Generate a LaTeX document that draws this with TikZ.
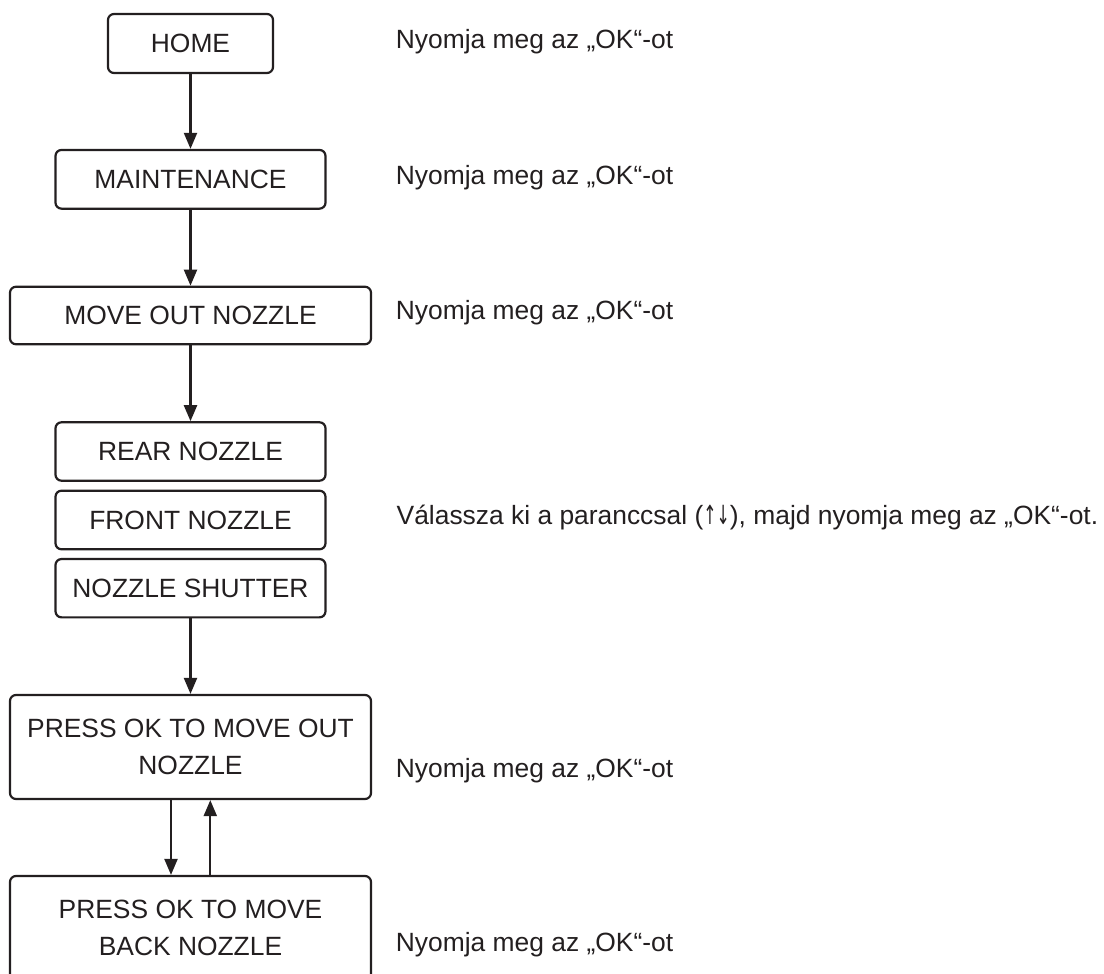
\documentclass[tikz,border=0pt]{standalone}
\usepackage{fontspec}
\usepackage{graphicx}
\setmainfont{Liberation Sans}
\newfontfamily\arrowfont{DejaVu Sans}
\usetikzlibrary{arrows.meta}
\definecolor{ink}{HTML}{231F20}
\newcommand{\uparr}{\scalebox{0.6}[1]{\arrowfont ↑}}
\newcommand{\dnarr}{\scalebox{0.6}[1]{\arrowfont ↓}}
\begin{document}
\begin{tikzpicture}[x=1pt,y=-1pt,
  box/.style={draw=ink, text=ink, line width=2.2pt, rounded corners=6pt, inner sep=0pt, align=center,
    font=\fontsize{26.4}{37.5}\selectfont},
  note/.style={text=ink, inner sep=0pt, anchor=base west, font=\fontsize{26.4}{37.5}\selectfont},
  arr/.style={draw=ink, line width=2.2pt, -{Triangle[length=16pt,width=13pt]}}]
\useasboundingbox (0,0) rectangle (1104,974);
\node[box, minimum width=165pt, minimum height=59pt] (home) at (190.5,43.5) {HOME};
\node[box, minimum width=270pt, minimum height=58.7pt] (maint) at (190.5,179.3) {MAINTENANCE};
\node[box, minimum width=361pt, minimum height=57.5pt] (moveout) at (190.5,315.5) {MOVE OUT NOZZLE};
\node[box, minimum width=270pt, minimum height=58.4pt] (rear) at (190.5,451.5) {REAR NOZZLE};
\node[box, minimum width=270pt, minimum height=58.6pt] (front) at (190.5,520) {FRONT NOZZLE};
\node[box, minimum width=270pt, minimum height=58.3pt] (shutter) at (190.5,588.2) {NOZZLE SHUTTER};
\node[box, minimum width=361pt, minimum height=104pt] (pressout) at (190.5,747) {PRESS OK TO MOVE OUT\\NOZZLE};
\node[box, minimum width=361pt, minimum height=104pt] (pressback) at (190.5,928) {PRESS OK TO MOVE\\BACK NOZZLE};

\node[note] (t1) at (395.7,48.3) {Nyomja meg az „OK“-ot};
\node[note] (t2) at (395.7,184.3) {Nyomja meg az „OK“-ot};
\node[note] (t3) at (395.7,319.3) {Nyomja meg az „OK“-ot};
\node[note] (t4) at (396.5,524.3) {Válassza ki a paranccsal (\uparr\dnarr), majd nyomja meg az „OK“-ot.};
\node[note] (t5) at (395.7,777) {Nyomja meg az „OK“-ot};
\node[note] (t6) at (395.7,951) {Nyomja meg az „OK“-ot};

\draw[arr] (home) -- (maint);
\draw[arr] (maint) -- (moveout);
\draw[arr] (moveout) -- (rear);
\draw[arr] (shutter) -- (pressout);
\draw[arr] ([xshift=-19.5pt]pressout.south) -- ([xshift=-19.5pt]pressback.north);
\draw[arr] ([xshift=19.8pt]pressback.north) -- ([xshift=19.8pt]pressout.south);
\end{tikzpicture}
\end{document}
